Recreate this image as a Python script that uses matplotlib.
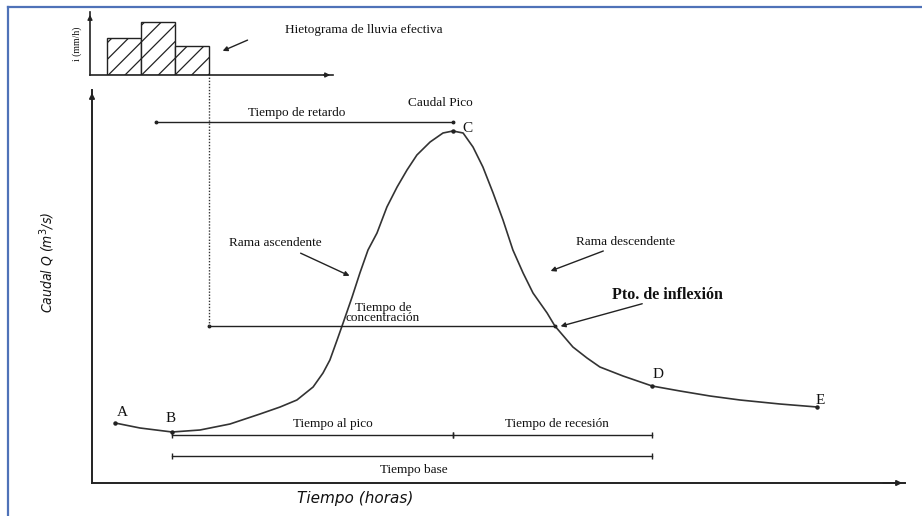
import numpy as np
import matplotlib
matplotlib.use("Agg")
import matplotlib.pyplot as plt
from matplotlib.lines import Line2D

# Hidrograma: tiempo (h) y caudal (m3/s)
tiempo = [0.77, 1.6, 2.67, 3.6, 4.6, 5.6, 6.27, 6.83, 7.37, 7.7, 7.93, 8.17,
          8.37, 8.67, 8.93, 9.2, 9.5, 9.83, 10.17, 10.5, 10.83, 11.27, 11.7,
          12.03, 12.37, 12.7, 13.03, 13.37, 13.7, 14.03, 14.37, 14.7, 15.17,
          15.43, 16.03, 16.5, 16.93, 17.7, 18.67, 19.6, 20.6, 21.6, 22.93, 24.17]
caudal = [6.0, 5.5, 5.1, 5.3, 5.9, 6.9, 7.6, 8.3, 9.6, 11.0, 12.3, 14.3,
          16.0, 18.6, 21.0, 23.3, 25.0, 27.6, 29.6, 31.3, 32.8, 34.1, 35.0,
          35.2, 35.0, 33.6, 31.6, 29.0, 26.3, 23.3, 21.0, 19.0, 17.0,
          15.7, 13.6, 12.5, 11.6, 10.7, 9.7, 9.2, 8.7, 8.3, 7.9, 7.6]
# indices de los puntos A, B, C, D, E y del punto de inflexion
puntos = {"A": 0, "B": 2, "C": 23, "D": 38, "E": 43}
i_inflexion = 33

# Hietograma de lluvia efectiva
inicio_barras = [0.5, 1.63, 2.77]
ancho_barra = 1.13
intensidad = [3.7, 5.3, 2.9]

serif = "Liberation Serif"
negro = "#111111"

fig = plt.figure(figsize=(9.22, 5.16), dpi=100)

# marco azul
fig.add_artist(Line2D([8 / 922, 8 / 922], [0, 1 - 7 / 516], color="#4f72b8", lw=1.6))
fig.add_artist(Line2D([8 / 922, 1], [1 - 7 / 516, 1 - 7 / 516], color="#4f72b8", lw=1.6))

# ---- ejes del hidrograma
ax = fig.add_axes([92 / 922, 33 / 516, 813 / 922, 393 / 516])
ax.set_xlim(0, 27.1)
ax.set_ylim(0, 39.3)
for s in ["top", "right"]:
    ax.spines[s].set_visible(False)
for s in ["left", "bottom"]:
    ax.spines[s].set_color("#222222")
    ax.spines[s].set_linewidth(1.4)
ax.set_xticks([])
ax.set_yticks([])
ax.annotate("", xy=(1.0, 0), xytext=(0.97, 0), xycoords="axes fraction",
            arrowprops=dict(arrowstyle="-|>", color="#222222", lw=1.2, mutation_scale=8))
ax.annotate("", xy=(0, 1.0), xytext=(0, 0.97), xycoords="axes fraction",
            arrowprops=dict(arrowstyle="-|>", color="#222222", lw=1.2, mutation_scale=8))

ax.plot(tiempo, caudal, color="#333333", lw=1.2, solid_joinstyle="round")
for nombre, i in puntos.items():
    ax.plot(tiempo[i], caudal[i], "o", color="#222222", ms=2.2)

etiquetas = {"A": (0.25, 1.0), "B": (-0.05, 1.4), "C": (0.3, 0.3), "D": (0.2, 1.2), "E": (0.1, 0.6)}
for nombre, (dx, dy) in etiquetas.items():
    i = puntos[nombre]
    ax.text(tiempo[i] + dx, caudal[i] + dy, nombre, family=serif, fontsize=11,
            color=negro, ha="left" if nombre == "C" else "center", va="center")

tB = tiempo[puntos["B"]]
tC = tiempo[puntos["C"]]
tD = tiempo[puntos["D"]]
t_inf = tiempo[i_inflexion]
q_inf = caudal[i_inflexion]
t_fin_lluvia = inicio_barras[-1] + ancho_barra
centros = np.array(inicio_barras) + ancho_barra / 2
t_centroide = float(np.sum(centros * np.array(intensidad)) / np.sum(intensidad))

kw = dict(color="#222222", lw=1.0)
tick = dict(marker="|", ms=4, mew=1.0)
# Tiempo al pico / recesion / base
ax.plot([tB, tC], [4.8, 4.8], **kw, **tick)
ax.plot([tC, tD], [4.8, 4.8], **kw, **tick)
ax.plot([tB, tD], [2.7, 2.7], **kw, **tick)
# Tiempo de retardo
ax.plot([t_centroide, tC], [36.1, 36.1], **kw, marker="o", ms=1.8)
# Tiempo de concentracion
ax.plot([t_fin_lluvia, t_inf], [q_inf, q_inf], **kw, marker="o", ms=1.8)
# linea punteada desde el fin de la lluvia
ax.plot([t_fin_lluvia, t_fin_lluvia], [q_inf, 40.8], color="#333333", lw=1.0,
        ls=(0, (1, 1.2)), clip_on=False)

txt = dict(family=serif, fontsize=9.5, color=negro, ha="center", va="center")
ax.text(8.03, 5.9, "Tiempo al pico", **txt)
ax.text(15.5, 5.9, "Tiempo de recesión", **txt)
ax.text(10.73, 1.3, "Tiempo base", **txt)
ax.text(6.83, 37.0, "Tiempo de retardo", **txt)
ax.text(11.6, 38.0, "Caudal Pico", **txt)
ax.text(9.7, 17.0, "Tiempo de\nconcentración", linespacing=0.85, **txt)
ax.text(6.1, 24.0, "Rama ascendente", **txt)
ax.text(17.8, 24.1, "Rama descendente", **txt)
ax.text(19.17, 18.8, "Pto. de inflexión", family=serif, fontsize=11.5,
        fontweight="bold", color=negro, ha="center", va="center")
ax.text(9.07, 45.3, "Hietograma de lluvia efectiva", clip_on=False, **txt)

flecha = dict(arrowstyle="-|>", color="#222222", lw=1.0, mutation_scale=7)
ax.annotate("", xy=(8.67, 20.6), xytext=(6.87, 23.1), arrowprops=flecha)
ax.annotate("", xy=(15.2, 21.1), xytext=(17.13, 23.3), arrowprops=flecha)
ax.annotate("", xy=(t_inf + 0.1, q_inf - 0.1), xytext=(18.43, 18.0), arrowprops=flecha)
ax.annotate("", xy=(4.27, 43.1), xytext=(5.27, 44.4), arrowprops=flecha,
            annotation_clip=False)

ax.text(8.77, -1.5, "Tiempo (horas)", fontsize=11, style="italic", color=negro,
        ha="center", va="center", family="DejaVu Sans")
ax.text(-1.5, 22.1, "Caudal Q (m$^3$/s)", fontsize=10, style="italic", color=negro,
        ha="center", va="center", rotation=90, family="DejaVu Sans", stretch="condensed")

# ---- ejes del hietograma
plt.rcParams["hatch.linewidth"] = 0.9
axh = fig.add_axes([90 / 922, 441 / 516, 243 / 922, 63 / 516])
axh.set_xlim(-0.067, 8.03)
axh.set_ylim(0, 6.3)
for s in ["top", "right"]:
    axh.spines[s].set_visible(False)
for s in ["left", "bottom"]:
    axh.spines[s].set_color("#222222")
    axh.spines[s].set_linewidth(1.2)
axh.set_xticks([])
axh.set_yticks([])
axh.patch.set_alpha(0)
axh.bar(inicio_barras, intensidad, width=ancho_barra, align="edge", color="white",
        edgecolor="#222222", hatch="//", lw=1.0)
axh.annotate("", xy=(1.0, 0), xytext=(0.95, 0), xycoords="axes fraction",
             arrowprops=dict(arrowstyle="-|>", color="#222222", lw=1.0, mutation_scale=7))
axh.annotate("", xy=(0, 1.0), xytext=(0, 0.85), xycoords="axes fraction",
             arrowprops=dict(arrowstyle="-|>", color="#222222", lw=1.0, mutation_scale=7))
axh.set_ylabel("i (mm/h)", family=serif, fontsize=7, color=negro, labelpad=6)

fig.savefig("out.png", dpi=100)
